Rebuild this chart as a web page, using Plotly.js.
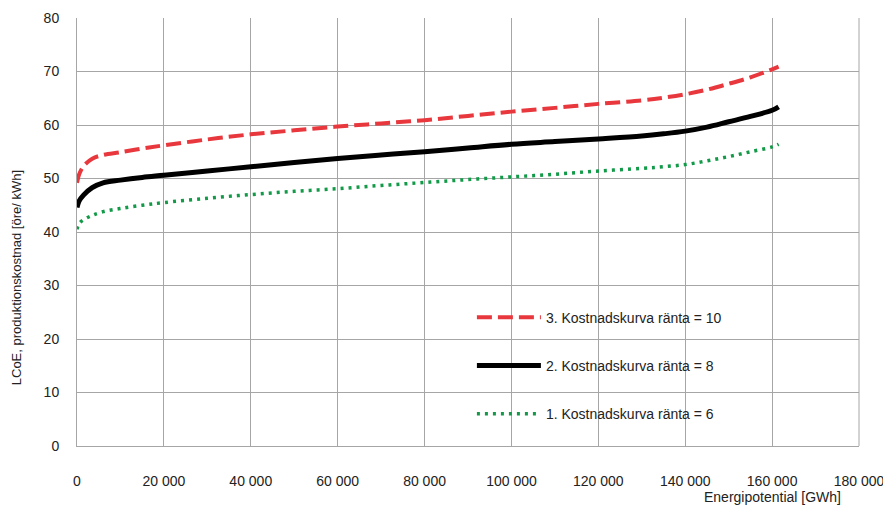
<!DOCTYPE html>
<html>
<head>
<meta charset="utf-8">
<script src="https://cdn.plot.ly/plotly-3.0.1.min.js"></script>
<style>html,body{margin:0;padding:0;background:#fff;}#chart{width:883px;height:506px;}</style>
</head>
<body>
<div id="chart"></div>
<script>
// Energipotential [GWh]
const energy = [0, 500, 1500, 3500, 6000, 10000, 15000, 20000, 30000, 40000, 50000, 60000, 70000, 80000, 90000, 100000, 110000, 120000, 130000, 135000, 140000, 145000, 150000, 155000, 160000, 161500];
// LCoE [öre/kWh]
const rate10 = [49.2, 50.8, 52.3, 53.7, 54.4, 54.9, 55.6, 56.2, 57.3, 58.25, 59.0, 59.7, 60.3, 60.9, 61.7, 62.5, 63.2, 63.95, 64.6, 65.1, 65.75, 66.6, 67.7, 68.9, 70.4, 70.9];
const rate8  = [44.6, 45.8, 46.9, 48.3, 49.2, 49.7, 50.2, 50.6, 51.4, 52.2, 53.0, 53.75, 54.4, 55.0, 55.7, 56.4, 56.9, 57.4, 57.95, 58.35, 58.85, 59.6, 60.6, 61.6, 62.75, 63.4];
const rate6  = [40.5, 41.6, 42.3, 43.1, 43.8, 44.4, 45.0, 45.5, 46.3, 47.0, 47.6, 48.1, 48.7, 49.25, 49.8, 50.3, 50.8, 51.4, 51.9, 52.2, 52.6, 53.3, 54.1, 55.0, 55.9, 56.4];
const seriesNames = ["3. Kostnadskurva ränta = 10", "2. Kostnadskurva ränta = 8", "1. Kostnadskurva ränta = 6"];
const xTickVals = [0, 20000, 40000, 60000, 80000, 100000, 120000, 140000, 160000, 180000];
const xTickText = ["0", "20 000", "40 000", "60 000", "80 000", "100 000", "120 000", "140 000", "160 000", "180 000"];
const yTickVals = [0, 10, 20, 30, 40, 50, 60, 70, 80];

const font = "Liberation Sans, Arial, sans-serif";
const traces = [
  {x: energy, y: rate10, name: seriesNames[0], legendgroup: "a", mode: "lines",
   line: {color: "#e8383d", width: 4, dash: "15px,6px", shape: "spline", smoothing: 1}},
  {x: energy, y: rate8, name: seriesNames[1], legendgroup: "b", mode: "lines",
   line: {color: "#000000", width: 5, shape: "spline", smoothing: 1}},
  {x: energy, y: rate6, name: seriesNames[2], legendgroup: "c", mode: "lines",
   line: {color: "#129a48", width: 3.5, dash: "3px,5px", shape: "spline", smoothing: 1}}
];
const layout = {
  width: 883, height: 506,
  margin: {l: 77, r: 24, t: 18, b: 60},
  paper_bgcolor: "#fff", plot_bgcolor: "#fff",
  font: {family: font, size: 14, color: "#222"},
  showlegend: true,
  legend: {x: 0.505, y: 0.337, xanchor: "left", yanchor: "top", bgcolor: "rgba(0,0,0,0)",
           borderwidth: 0, tracegroupgap: 27, itemwidth: 64,
           font: {family: font, size: 14, color: "#222"}},
  xaxis: {range: [0, 180000], tickvals: xTickVals, ticktext: xTickText, showgrid: true,
          gridcolor: "#a6a6a6", gridwidth: 1, showline: true, linecolor: "#a6a6a6", mirror: false,
          zeroline: false, ticks: "", ticklabelstandoff: 22, ticklabeloverflow: "allow",
          tickfont: {size: 14, family: font, color: "#222"}},
  yaxis: {range: [0, 80], tickvals: yTickVals, showgrid: true, gridcolor: "#a6a6a6", gridwidth: 1,
          showline: true, linecolor: "#a6a6a6", zeroline: false, ticks: "", ticklabelstandoff: 14,
          tickfont: {size: 14, family: font, color: "#222"}},
  shapes: [
    {type: "line", xref: "paper", yref: "paper", x0: 1, x1: 1, y0: 0, y1: 1, line: {color: "#a6a6a6", width: 1}, layer: "below"},
    {type: "rect", xref: "paper", yref: "paper", x0: 0.469, x1: 0.996, y0: 0.014, y1: 0.35,
     fillcolor: "#fff", line: {width: 0}, layer: "between"}
  ],
  annotations: [
    {text: "LCoE, produktionskostnad [öre/ kWh]", xref: "paper", yref: "paper", x: -0.078, y: 0.392,
     xanchor: "center", yanchor: "middle", textangle: -90, showarrow: false,
     font: {family: font, size: 13, color: "#222"}},
    {text: "Energipotential [GWh]", xref: "paper", yref: "paper", x: 0.98, y: -0.118,
     xanchor: "right", yanchor: "middle", showarrow: false,
     font: {family: font, size: 14, color: "#222"}}
  ]
};
Plotly.newPlot("chart", traces, layout, {displayModeBar: false, staticPlot: true});
</script>
</body>
</html>
